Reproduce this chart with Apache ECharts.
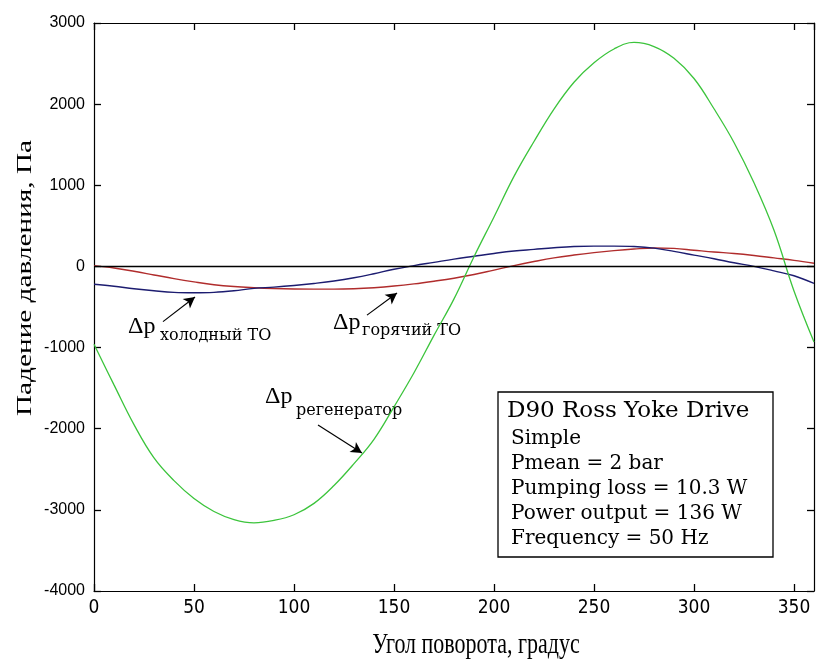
<!DOCTYPE html>
<html><head><meta charset="utf-8">
<script src="https://cdn.jsdelivr.net/npm/echarts@6/dist/echarts.min.js"></script>
<style>html,body{margin:0;padding:0;background:#fff}#c{width:816px;height:663px}</style>
</head><body><div id="c"></div>
<script>
// Crank angle, degrees
const angles = [0,10,20,30,40,50,60,70,80,90,100,110,120,130,140,150,160,170,180,190,200,210,220,230,240,250,260,270,280,290,300,310,320,330,340,350,360];
// Pressure drop, Pa
const regenerator = [-960,-1460,-1950,-2360,-2640,-2860,-3020,-3120,-3160,-3130,-3060,-2920,-2700,-2430,-2130,-1730,-1310,-850,-400,120,610,1110,1540,1940,2270,2510,2680,2760,2710,2565,2316,1943,1528,1030,445,-302,-930];
const coldHX = [-220,-245,-275,-300,-320,-325,-320,-300,-270,-255,-235,-210,-180,-140,-90,-35,10,50,90,125,160,190,210,230,245,250,250,245,225,185,140,95,45,0,-55,-115,-210];
const hotHX = [10,-20,-60,-105,-150,-190,-225,-248,-262,-272,-278,-280,-280,-275,-262,-242,-215,-182,-145,-100,-45,10,60,105,140,170,195,215,228,222,200,178,160,135,105,75,40];
const zeroLine = [[0,0],[360,0]];
const xTickValues = [0,50,100,150,200,250,300,350];
const yTickValues = [-4000,-3000,-2000,-1000,0,1000,2000,3000];
const xTitle = 'Угол поворота, градус';
const yTitle = 'Падение давления, Па';
const infoTitle = 'D90 Ross Yoke Drive';
const infoLines = ['Simple','Pmean = 2 bar','Pumping loss = 10.3 W','Power output = 136 W','Frequency = 50 Hz'];
// annotations: [label, subscript, label anchor, subscript anchor, arrow tail, arrow tip] (data coords)
const annotations = [
  ['Δp','холодный ТО',[17,-740],[33,-850],[34.5,-680],[50.5,-377]],
  ['Δp','горячий ТО',[119.5,-690],[134,-800],[136.5,-600],[151.5,-328]],
  ['Δp','регенератор',[85.5,-1609],[101,-1782],[112,-1953],[134,-2298]]
];

const zip = (xs, ys) => xs.map((x, i) => [x, ys[i]]);
const chart = echarts.init(document.getElementById('c'), null, {renderer:'canvas'});
const axisCommon = {
  type:'value', min:0, max:360, interval:50,
  axisLine:{show:true, onZero:false, lineStyle:{color:'#000', width:1.2}},
  axisTick:{show:true, inside:true, length:7, lineStyle:{color:'#000', width:1.3}},
  splitLine:{show:false}
};
const yCommon = {
  type:'value', min:-4000, max:3000, interval:1000,
  axisLine:{show:true, onZero:false, lineStyle:{color:'#000', width:1.2}},
  axisTick:{show:true, inside:true, length:7, lineStyle:{color:'#000', width:1.3}},
  splitLine:{show:false}
};
const arrowLines = annotations.map(a => [{coord:a[4]},{coord:a[5]}]);
chart.setOption({
  animation:false,
  backgroundColor:'#fff',
  grid:{left:94, right:2, top:23, bottom:72},
  xAxis:[
    Object.assign({}, axisCommon, {position:'bottom',
      axisLabel:{show:true, showMaxLabel:false, margin:8, color:'#000', fontSize:19,
        fontFamily:"'Liberation Sans Narrow','DejaVu Sans Condensed',sans-serif",
        formatter: v => xTickValues.includes(v) ? String(v) : ''}}),
    Object.assign({}, axisCommon, {position:'top', axisLabel:{show:false}})
  ],
  yAxis:[
    Object.assign({}, yCommon, {position:'left',
      axisLabel:{show:true, margin:9, color:'#000', fontSize:16, fontFamily:"'Liberation Sans',Arial,sans-serif",
        formatter: v => yTickValues.includes(v) ? String(v) : ''}}),
    Object.assign({}, yCommon, {position:'right', axisLabel:{show:false}})
  ],
  series:[
    {type:'line', data:zip(angles, hotHX), showSymbol:false, smooth:0.4,
      lineStyle:{color:'#b02c2c', width:1.4}},
    {type:'line', data:zip(angles, coldHX), showSymbol:false, smooth:0.4,
      lineStyle:{color:'#1c1c70', width:1.4}},
    {type:'line', data:zip(angles, regenerator), showSymbol:false, smooth:0.4,
      lineStyle:{color:'#3cc43c', width:1.3}},
    {type:'line', data:zeroLine, showSymbol:false,
      lineStyle:{color:'#000', width:1.4},
      markLine:{silent:true, symbol:['none','arrow'], symbolSize:[9,11], label:{show:false},
        lineStyle:{color:'#000', width:1.2, type:'solid'}, data:arrowLines}}
  ]
});

const px = p => chart.convertToPixel({gridIndex:0}, p);
const g = [];
annotations.forEach(a => {
  const p1 = px(a[2]), p2 = px(a[3]);
  g.push({type:'text', x:p1[0], y:p1[1], style:{text:a[0], font:"24px 'Liberation Serif','Times New Roman',serif", fill:'#000', align:'left', verticalAlign:'middle'}});
  g.push({type:'text', x:p2[0], y:p2[1], style:{text:a[1], font:"16px 'DejaVu Serif',serif", fill:'#000', align:'left', verticalAlign:'middle'}});
});
// info box
g.push({type:'rect', shape:{x:498, y:392, width:275, height:165}, style:{fill:'#fff', stroke:'#000', lineWidth:1.3}});
g.push({type:'text', x:507, y:411, style:{text:infoTitle, font:"23px 'DejaVu Serif',serif", fill:'#000', align:'left', verticalAlign:'middle'}});
infoLines.forEach((t, i) => {
  g.push({type:'text', x:511, y:439 + i*25, style:{text:t, font:"20px 'DejaVu Serif',serif", fill:'#000', align:'left', verticalAlign:'middle'}});
});
// axis titles
g.push({type:'text', x:25, y:278, rotation:Math.PI/2, scaleX:1.33, style:{text:yTitle, font:"22px 'Liberation Serif','Times New Roman',serif", fill:'#000', align:'center', verticalAlign:'middle'}});
g.push({type:'text', x:476, y:645, scaleY:1.3, style:{text:xTitle, font:"22px 'Liberation Serif','Times New Roman',serif", fill:'#000', align:'center', verticalAlign:'middle'}});
chart.setOption({graphic:g});
</script></body></html>
